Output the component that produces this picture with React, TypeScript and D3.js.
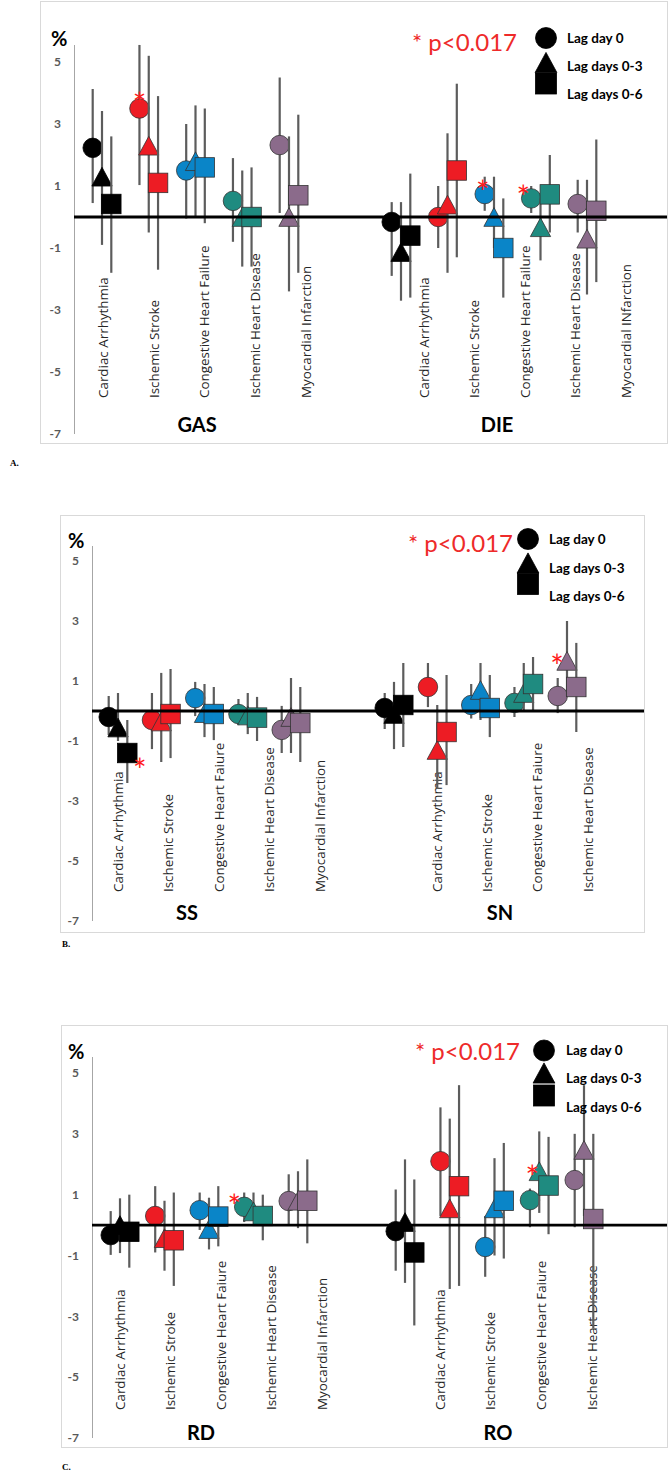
import React from 'react'
import * as d3 from 'd3'

// ---- data (percent change, 95% CI) ----
const lags = ['Lag day 0', 'Lag days 0-3', 'Lag days 0-6']
const outcomeColors = ['#000000', '#ed1c24', '#0a85c8', '#1f8b80', '#8b6b8b']
const yTicks = [5, 3, 1, -1, -3, -5, -7]

const labelsGas = ['Cardiac Arrhythmia', 'Ischemic Stroke', 'Congestive Heart Failure', 'Ischemic Heart Disease', 'Myocardial Infarction']
const labelsDie = ['Cardiac Arrhythmia', 'Ischemic Stroke', 'Congestive Heart Failure', 'Ischemic Heart Disease', 'Myocardial INfarction']
const labelsSs = ['Cardiac Arrhythmia', 'Ischemic Stroke', 'Congestive Heart Faiure', 'Ischemic Heart Disease', 'Myocardial Infarction']
const labelsSn = ['Cardiac Arrhythmia', 'Ischemic Stroke', 'Congestive Heart Faiure', 'Ischemic Heart Disease']

// rows = lags, columns = outcome (CA, IS, CHF, IHD, MI)
const gasEst = [[2.23, 3.5, 1.5, 0.52, 2.32], [1.3, 2.3, 1.8, 0.0, 0.0], [0.42, 1.1, 1.6, 0.0, 0.7]]
const gasLo = [[0.45, 1.03, -0.05, -0.8, 0.13], [-0.9, -0.5, 0.03, -1.6, -2.4], [-1.8, -1.7, -0.2, -1.6, -1.8]]
const gasHi = [[4.13, 5.55, 3.0, 1.9, 4.5], [3.42, 5.2, 3.6, 1.5, 2.6], [2.6, 3.9, 3.5, 1.6, 3.3]]

const dieEst = [[-0.16, 0.0, 0.74, 0.6, 0.42], [-1.13, 0.4, 0.0, -0.33, -0.7], [-0.6, 1.5, -1.0, 0.73, 0.2]]
const dieLo = [[-1.9, -1.0, 0.2, 0.13, -0.5], [-2.7, -1.8, -1.0, -1.4, -2.5], [-2.6, -1.3, -2.6, -0.5, -2.1]]
const dieHi = [[0.48, 1.0, 1.3, 1.0, 1.2], [0.48, 2.7, 1.3, 0.6, 1.2], [1.4, 4.3, 0.6, 2.0, 2.5]]

const ssEst = [[-0.2, -0.3, 0.43, -0.1, -0.63], [-0.55, -0.35, -0.07, -0.15, -0.2], [-1.4, -0.1, -0.1, -0.22, -0.4]]
const ssLo = [[-0.8, -1.27, -0.17, -0.47, -1.4], [-1.0, -1.7, -0.87, -0.77, -1.4], [-2.4, -1.57, -0.97, -1.0, -1.7]]
const ssHi = [[0.5, 0.6, 0.97, 0.4, 0.17], [0.6, 1.27, 0.9, 0.6, 1.1], [-0.3, 1.4, 0.8, 0.47, 0.8]]

const snEst = [[0.1, 0.8, 0.2, 0.27, 0.5], [-0.1, -1.3, 0.7, 0.6, 1.67], [0.2, -0.7, 0.1, 0.9, 0.8]]
const snLo = [[-0.6, 0.13, -0.25, -0.2, -0.07], [-1.27, -2.6, -0.3, 0.0, 0.5], [-1.2, -2.47, -0.87, 0.03, -0.7]]
const snHi = [[0.6, 1.6, 0.9, 0.8, 1.1], [0.97, 0.2, 1.6, 1.6, 3.0], [1.6, 1.2, 1.2, 1.8, 2.27]]

const rdEst = [[-0.33, 0.3, 0.49, 0.6, 0.79], [0.0, -0.43, -0.13, 0.45, 0.8], [-0.22, -0.5, 0.28, 0.3, 0.8]]
const rdLo = [[-0.98, -0.9, -0.16, 0.1, 0.0], [-0.92, -1.5, -0.8, 0.16, -0.1], [-1.4, -2.0, -0.7, -0.5, -0.6]]
const rdHi = [[0.46, 1.28, 1.07, 1.07, 1.67], [0.88, 0.8, 0.9, 1.07, 1.77], [1.0, 1.07, 1.28, 1.0, 2.16]]

const roEst = [[-0.2, 2.1, -0.72, 0.82, 1.48], [0.1, 0.55, 0.55, 1.77, 2.47], [-0.9, 1.28, 0.8, 1.3, 0.2]]
const roLo = [[-1.5, 0.3, -1.7, -0.07, -0.07], [-1.9, -2.1, -1.0, 0.4, 0.3], [-3.3, -2.0, -1.1, -0.3, -3.4]]
const roHi = [[1.17, 3.87, 0.3, 1.2, 3.0], [2.16, 3.5, 2.2, 3.08, 4.6], [1.5, 4.6, 2.7, 2.9, 3.0]]

// significant estimates: [outcome, lag]
const sigGas = [[1, 0]]
const sigDie = [[2, 0], [3, 0]]
const sigSs = [[0, 2]]
const sigSn = [[4, 1]]
const sigRd = [[3, 0]]
const sigRo = [[3, 1]]

// ---- layout ----
const FONT = "Lato, 'Open Sans', sans-serif"
const panels = [
  {
    letter: 'A.', letterPos: [10, 466], frame: [40.5, 1.5, 667.5, 443.5], axisX: 74, tickX: 61, yRange: [434, 62], axisTop: 45,
    labelBottom: 398, pct: [51, 46], titleY: 432,
    legend: { cx: 546, cy: [38, 62.5, 83.5], tx: 567, ty: [43, 71, 99], px: 517, py: 51 },
    halves: [
      { title: 'GAS', titleX: 197, est: gasEst, lo: gasLo, hi: gasHi, labels: labelsGas, groups: [102, 289], labelRange: [103, 306], sig: sigGas, nudge: [[0, -12]] },
      { title: 'DIE', titleX: 497, est: dieEst, lo: dieLo, hi: dieHi, labels: labelsDie, groups: [401, 587], labelRange: [424, 626], sig: sigDie, nudge: [[-2, -10], [-8, -9]] },
    ],
  },
  {
    letter: 'B.', letterPos: [62, 947], frame: [60.5, 515.5, 644.5, 932.5], axisX: 92, tickX: 79, yRange: [921, 561], axisTop: 546,
    labelBottom: 892, pct: [68, 548], titleY: 920,
    legend: { cx: 528, cy: [539, 563, 584], tx: 549, ty: [544, 573, 601], px: 513, py: 552 },
    halves: [
      { title: 'SS', titleX: 187, est: ssEst, lo: ssLo, hi: ssHi, labels: labelsSs, groups: [118, 291], labelRange: [118, 320], sig: sigSs, nudge: [[12.5, 9]] },
      { title: 'SN', titleX: 500, est: snEst, lo: snLo, hi: snHi, labels: labelsSn, groups: [394, 567], labelRange: [437, 588], sig: sigSn, nudge: [[-10, -3]] },
    ],
  },
  {
    letter: 'C.', letterPos: [62, 1470], frame: [61.5, 1025.5, 667.5, 1447.5], axisX: 92, tickX: 79, yRange: [1438, 1073], axisTop: 1057,
    labelBottom: 1410, pct: [68, 1059], titleY: 1440,
    legend: { cx: 544, cy: [1050.5, 1073, 1095.5], tx: 566, ty: [1055, 1083, 1112], px: 520, py: 1060 },
    halves: [
      { title: 'RD', titleX: 201, est: rdEst, lo: rdLo, hi: rdHi, labels: labelsSs, groups: [120, 298], labelRange: [120, 322], sig: sigRd, nudge: [[-10, -9]] },
      { title: 'RO', titleX: 498, est: roEst, lo: roLo, hi: roHi, labels: labelsSn, groups: [405, 584], labelRange: [440, 592], sig: sigRo, nudge: [[-7, -2]] },
    ],
  },
]

const shapes = ['circle', 'triangle', 'square']

function Marker({ shape, cx, cy, fill, size }) {
  const stroke = fill === '#000000' ? '#000' : '#333'
  if (shape === 'circle') {
    return <circle cx={cx} cy={cy} r={size / 2} fill={fill} stroke={stroke} strokeWidth={0.8} />
  }
  if (shape === 'square') {
    return <rect x={cx - size / 2} y={cy - size / 2} width={size} height={size} fill={fill} stroke={stroke} strokeWidth={0.8} />
  }
  const p = d3.path()
  const w = size * 1.04
  const h = size * 0.96
  p.moveTo(cx, cy - h / 2)
  p.lineTo(cx + w / 2, cy + h / 2)
  p.lineTo(cx - w / 2, cy + h / 2)
  p.closePath()
  return <path d={p.toString()} fill={fill} stroke={stroke} strokeWidth={0.8} />
}

function Half({ h, y, labelBottom, titleY }) {
  const outcomesIdx = h.est[0].map((_, i) => i)
  const gx = d3.scalePoint().domain(outcomesIdx).range(h.groups)
  const lagX = d3.scalePoint().domain(lags).range([-9.3, 9.3])
  const lx = d3.scalePoint().domain(h.labels).range(h.labelRange)

  return (
    <g>
      {h.labels.map((l) => (
        <text key={l} transform={`translate(${lx(l)},${labelBottom}) rotate(-90)`} dy="0.36em"
          fontFamily="'Open Sans', Lato, sans-serif" fontSize={13.4} fill="#262626">{l}</text>
      ))}
      {lags.map((lag, li) => (
        <g key={lag}>
          {outcomesIdx.map((oi) => {
            const x = gx(oi) + lagX(lag)
            return <line key={'e' + oi} x1={x} x2={x} y1={y(h.lo[li][oi])} y2={y(h.hi[li][oi])} stroke="#5c5c5c" strokeWidth={2.2} />
          })}
          {outcomesIdx.map((oi) => (
            <Marker key={'m' + oi} shape={shapes[li]} cx={gx(oi) + lagX(lag)} cy={y(h.est[li][oi])} fill={outcomeColors[oi]} size={19.5} />
          ))}
        </g>
      ))}
      {h.sig.map(([oi, li], k) => (
        <text key={'s' + k} x={gx(oi) + lagX(lags[li]) + h.nudge[k][0]} y={y(h.est[li][oi]) + h.nudge[k][1]} dy="0.62em"
          textAnchor="middle" fontFamily={FONT} fontSize={32} fill="#ff1a1a">*</text>
      ))}
      <text x={h.titleX} y={titleY} textAnchor="middle" fontFamily={FONT} fontWeight={700} fontSize={20} fill="#000">{h.title}</text>
    </g>
  )
}

function Panel({ cfg }) {
  const y = d3.scaleLinear().domain([-7, 5]).range(cfg.yRange)
  const [x0, y0, x1, y1] = cfg.frame
  const lg = cfg.legend
  return (
    <g>
      <rect x={x0} y={y0} width={x1 - x0} height={y1 - y0} fill="#fff" stroke="#d9d9d9" strokeWidth={1} />
      <line x1={cfg.axisX + 0.5} x2={cfg.axisX + 0.5} y1={cfg.axisTop} y2={y(-7)} stroke="#a6a6a6" strokeWidth={1} />
      {yTicks.map((t) => (
        <text key={t} x={cfg.tickX} y={y(t)} dy="0.35em" textAnchor="end" fontFamily={FONT} fontWeight={700} fontSize={12} fill="#595959">{t}</text>
      ))}
      <text x={cfg.pct[0]} y={cfg.pct[1]} fontFamily={FONT} fontWeight={700} fontSize={20} fill="#000">%</text>
      {cfg.halves.map((h) => (
        <Half key={h.title} h={h} y={y} labelBottom={cfg.labelBottom} titleY={cfg.titleY} />
      ))}
      <line x1={cfg.axisX} x2={x1 - 0.5} y1={y(0)} y2={y(0)} stroke="#000" strokeWidth={2.8} />
      <text x={lg.px} y={lg.py} textAnchor="end" fontFamily={FONT} fontSize={24} fill="#ee2a2a">* p&lt;0.017</text>
      {lags.map((lag, li) => (
        <g key={lag}>
          <Marker shape={shapes[li]} cx={lg.cx} cy={lg.cy[li]} fill="#000000" size={21} />
          <text x={lg.tx} y={lg.ty[li]} fontFamily={FONT} fontWeight={700} fontSize={13.5} fill="#000">{lag}</text>
        </g>
      ))}
      <text x={cfg.letterPos[0]} y={cfg.letterPos[1]} fontFamily="'Liberation Serif', serif" fontWeight={700} fontSize={9} fill="#000">{cfg.letter}</text>
    </g>
  )
}

export default function App() {
  return (
    <svg width={668} height={1472} style={{ position: 'absolute', left: 0, top: 0, background: '#fff' }}>
      {panels.map((p) => (
        <Panel key={p.letter} cfg={p} />
      ))}
    </svg>
  )
}
